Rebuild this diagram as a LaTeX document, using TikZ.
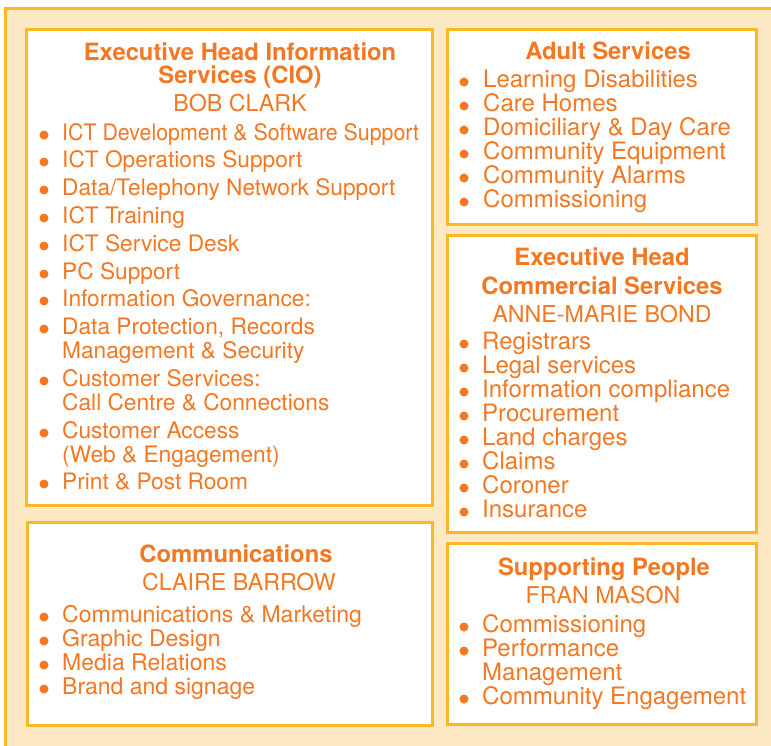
\documentclass[tikz,border=0pt]{standalone}
\usepackage{fontspec}
\setmainfont{TeX Gyre Heros}
\definecolor{orangetxt}{RGB}{243,120,33}
\definecolor{goldline}{RGB}{253,184,39}
\definecolor{peach}{RGB}{254,233,197}

\begin{document}
\begin{tikzpicture}[x=1pt,y=-1pt,
    unitbox/.style={draw=goldline,line width=3pt,fill=white},
    headline/.style={anchor=base,inner sep=0pt,text=orangetxt,font=\fontsize{23.8}{24}\selectfont\bfseries},
    headname/.style={anchor=base,inner sep=0pt,text=orangetxt,font=\fontsize{23.2}{24}\selectfont},
    itemline/.style={anchor=base west,inner sep=0pt,text=orangetxt,font=\fontsize{24}{24}\selectfont},
    smallitem/.style={itemline,font=\fontsize{22.7}{24}\selectfont},
    commsitem/.style={itemline,font=\fontsize{23}{24}\selectfont},
    bulletdot/.style={fill=orangetxt}]

        % page background, the frame runs off the page right and below
        \clip (0,0) rectangle (771,745);
        \fill[white] (0,0) rectangle (771,745);
        \draw[draw=goldline,line width=3pt,fill=peach] (5,8) rectangle (790,760);

        % draw the five unit boxes
        \draw[unitbox] (26,29) rectangle (432,505);
        \draw[unitbox] (27,522) rectangle (432,725);
        \draw[unitbox] (447,29) rectangle (756,224);
        \draw[unitbox] (447,235) rectangle (756,532);
        \draw[unitbox] (447,543) rectangle (756,724);

        % information services (CIO)
        \node[headline] (cioheadA) at (240,60) {Executive Head Information};
        \node[headline] (cioheadB) at (240,83) {Services (CIO)};
        \node[headname] (cioname) at (240,111) {BOB CLARK};
        \node[smallitem] (cioA) at (62,140) {\scalebox{0.94}[1]{ICT Development \& Software Support}};
        \node[smallitem] (cioB) at (62,167) {ICT Operations Support};
        \node[smallitem] (cioC) at (62,195) {Data/Telephony Network Support};
        \node[smallitem] (cioD) at (62,223) {ICT Training};
        \node[smallitem] (cioE) at (62,251) {ICT Service Desk};
        \node[smallitem] (cioF) at (62,279) {PC Support};
        \node[smallitem] (cioG) at (62,306) {Information Governance:};
        \node[smallitem] (cioH) at (62,334) {Data Protection, Records};
        \node[smallitem] (cioHb) at (62,358) {Management \& Security};
        \node[smallitem] (cioI) at (62,386) {Customer Services:};
        \node[smallitem] (cioIb) at (62,410) {Call Centre \& Connections};
        \node[smallitem] (cioJ) at (62,438) {Customer Access};
        \node[smallitem] (cioJb) at (62,462) {(Web \& Engagement)};
        \node[smallitem] (cioK) at (62,489) {Print \& Post Room};
        \foreach \y in {140,167,195,223,251,279,306,334,386,438,489}
            \fill[bulletdot] (44,\y-5) circle (4.5pt);

        % communications
        \node[headline] (commshead) at (236,562) {Communications};
        \node[headname] (commsname) at (239,590) {CLAIRE BARROW};
        \node[commsitem] (commsA) at (62,622) {Communications \& Marketing};
        \node[commsitem] (commsB) at (62,646) {Graphic Design};
        \node[commsitem] (commsC) at (62,670) {Media Relations};
        \node[commsitem] (commsD) at (62,694) {Brand and signage};
        \foreach \y in {622,646,670,694}
            \fill[bulletdot] (44,\y-5) circle (4.5pt);

        % adult services
        \node[headline] (adulthead) at (608,59) {Adult Services};
        \foreach \txt [count=\i] in {Learning Disabilities,Care Homes,
                Domiciliary \& Day Care,Community Equipment,Community Alarms,Commissioning} {
            \node[itemline] (adult\i) at (483,63+24*\i) {\txt};
            \fill[bulletdot] (464,58+24*\i) circle (4.5pt);
        }

        % commercial services
        \node[headline] (commheadA) at (602,265) {Executive Head};
        \node[headline] (commheadB) at (602,294) {Commercial Services};
        \node[headname] (commname) at (602,322) {ANNE-MARIE BOND};
        \foreach \txt [count=\i] in {Registrars,Legal services,Information compliance,
                Procurement,Land charges,Claims,Coroner,Insurance} {
            \node[itemline] (comm\i) at (482,325+24*\i) {\txt};
            \fill[bulletdot] (464,320+24*\i) circle (4.5pt);
        }

        % supporting people
        \node[headline] (supphead) at (604,575) {Supporting People};
        \node[headname] (suppname) at (603,603) {FRAN MASON};
        \node[itemline] (suppA) at (482,632) {Commissioning};
        \node[itemline] (suppB) at (482,656) {Performance};
        \node[itemline] (suppBb) at (482,680) {Management};
        \node[itemline] (suppC) at (482,704) {Community Engagement};
        \foreach \y in {632,656,704}
            \fill[bulletdot] (464,\y-5) circle (4.5pt);
\end{tikzpicture}
\end{document}
